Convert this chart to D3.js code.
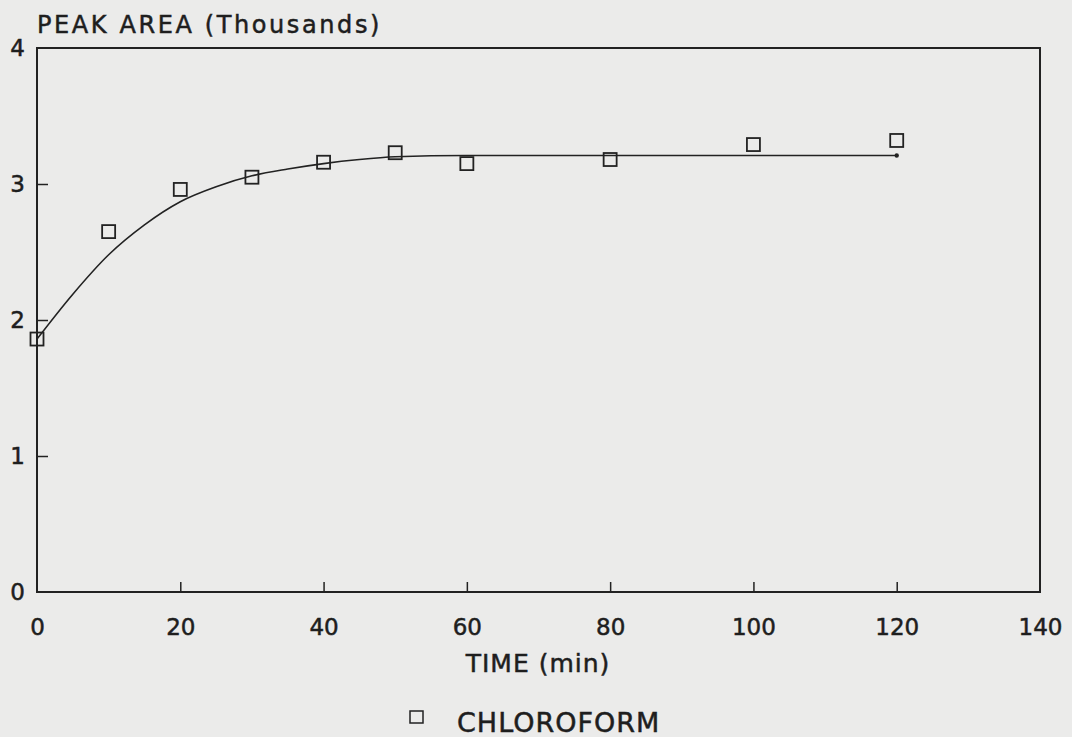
<!DOCTYPE html>
<html>
<head>
<meta charset="utf-8">
<script src="https://cdn.jsdelivr.net/npm/d3@7"></script>
<style>
  body { margin: 0; background: #ebebea; }
  text { font-family: "DejaVu Sans", sans-serif; fill: #1e1e1e; stroke: #1e1e1e; stroke-width: 0.5px; }
</style>
</head>
<body>
<script>
// measured points (chloroform)
const times = [0, 10, 20, 30, 40, 50, 60, 80, 100, 120];
const areas = [1.86, 2.65, 2.96, 3.05, 3.16, 3.23, 3.15, 3.18, 3.29, 3.32];

// fitted curve
const fitTimes = [0, 5, 10, 15, 20, 25, 30, 35, 40, 45, 50, 60, 80, 100, 120];
const fitAreas = [1.86, 2.19, 2.48, 2.70, 2.87, 2.98, 3.06, 3.11, 3.15, 3.18, 3.20, 3.21, 3.21, 3.21, 3.21];

const xTicks = [0, 20, 40, 60, 80, 100, 120, 140];
const yTicks = [0, 1, 2, 3, 4];

const w = 1072, h = 737;
const mLeft = 37, mRight = 1040, mTop = 48, mBottom = 592;

const svg = d3.select('body').append('svg')
  .attr('width', w)
  .attr('height', h);

const x = d3.scaleLinear().domain([0, 140]).range([mLeft, mRight]);
const y = d3.scaleLinear().domain([0, 4]).range([mBottom, mTop]);

// frame
svg.append('rect')
  .attr('x', mLeft).attr('y', mTop)
  .attr('width', mRight - mLeft).attr('height', mBottom - mTop)
  .attr('fill', 'none').attr('stroke', '#222').attr('stroke-width', 2);

// x axis, ticks pointing in
const xAxis = svg.append('g')
  .attr('transform', `translate(0,${mBottom})`)
  .call(d3.axisBottom(x).tickValues(xTicks).tickFormat(d3.format('d'))
    .tickSizeInner(-10).tickSizeOuter(0).tickPadding(27));
xAxis.select('.domain').remove();
xAxis.selectAll('line').attr('stroke', '#222').attr('stroke-width', 1.5)
  .filter(d => d === 0 || d === 140).remove();
xAxis.selectAll('text').attr('font-size', 23).attr('fill', '#1e1e1e')
  .attr('font-family', '"DejaVu Sans", sans-serif');

// y axis
const yAxis = svg.append('g')
  .attr('transform', `translate(${mLeft},0)`)
  .call(d3.axisLeft(y).tickValues(yTicks).tickFormat(d3.format('d'))
    .tickSizeInner(-11).tickSizeOuter(0).tickPadding(12));
yAxis.select('.domain').remove();
yAxis.selectAll('line').attr('stroke', '#222').attr('stroke-width', 1.5)
  .filter(d => d === 0 || d === 4).remove();
yAxis.selectAll('text').attr('font-size', 23).attr('fill', '#1e1e1e')
  .attr('font-family', '"DejaVu Sans", sans-serif');

// fitted curve
const line = d3.line()
  .x((d, i) => x(fitTimes[i]))
  .y(d => y(d))
  .curve(d3.curveMonotoneX);

svg.append('path')
  .datum(fitAreas)
  .attr('d', line)
  .attr('fill', 'none')
  .attr('stroke', '#222')
  .attr('stroke-width', 1.6);

svg.append('circle')
  .attr('cx', x(fitTimes[fitTimes.length - 1]))
  .attr('cy', y(fitAreas[fitAreas.length - 1]))
  .attr('r', 2.2).attr('fill', '#222');

// square markers
const s = 13;
svg.selectAll('rect.pt')
  .data(areas)
  .enter()
  .append('rect')
  .attr('class', 'pt')
  .attr('x', (d, i) => x(times[i]) - s / 2)
  .attr('y', d => y(d) - s / 2)
  .attr('width', s).attr('height', s)
  .attr('fill', 'none')
  .attr('stroke', '#222')
  .attr('stroke-width', 1.8);

// titles
svg.append('text')
  .attr('x', mLeft).attr('y', 33)
  .attr('font-size', 24)
  .attr('letter-spacing', 2.6)
  .text('PEAK AREA (Thousands)');

svg.append('text')
  .attr('x', 538).attr('y', 672)
  .attr('text-anchor', 'middle')
  .attr('font-size', 25)
  .attr('letter-spacing', 1)
  .text('TIME (min)');

// legend
svg.append('rect')
  .attr('x', 410).attr('y', 711)
  .attr('width', 13).attr('height', 12)
  .attr('fill', 'none').attr('stroke', '#222').attr('stroke-width', 1.5);

svg.append('text')
  .attr('x', 457).attr('y', 732)
  .attr('font-size', 27)
  .attr('letter-spacing', 1)
  .text('CHLOROFORM');
</script>
</body>
</html>
